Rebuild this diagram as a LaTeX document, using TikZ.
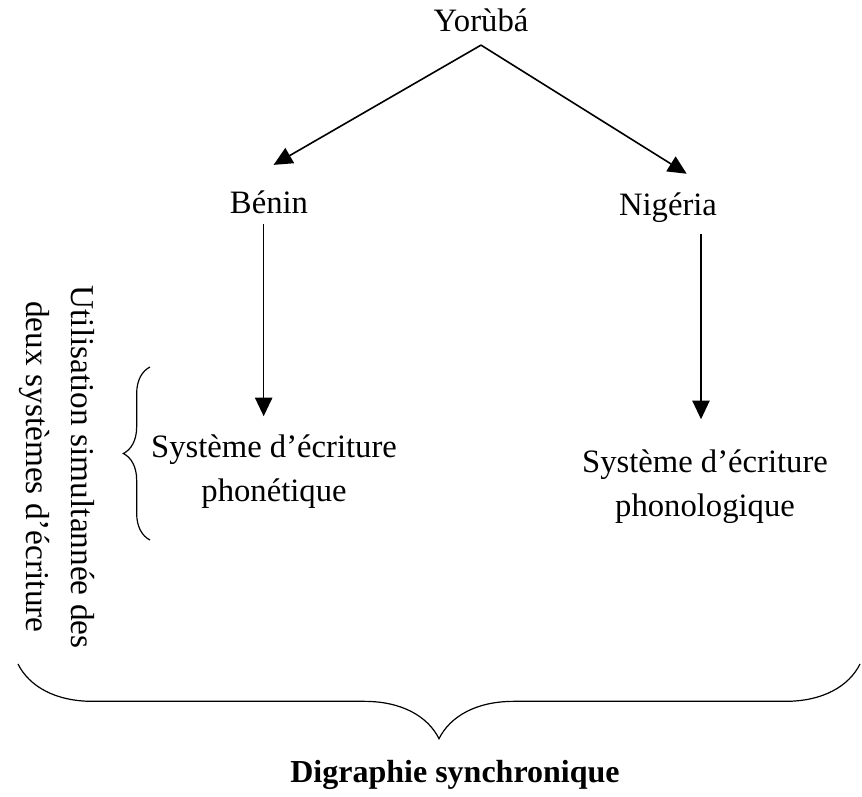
\documentclass[tikz,border=0pt]{standalone}
\usepackage{fontspec}
\setmainfont{Liberation Serif}
\usepackage{tikz}
\usetikzlibrary{arrows.meta, positioning, calc, decorations.pathreplacing}

\begin{document}
\begin{tikzpicture}[
  x=0.75pt, y=-0.75pt,
  every node/.style={font=\fontsize{24.5}{33}\selectfont, inner sep=0pt},
  lbl/.style={align=center},
  arr/.style={draw, line width=1.2pt, -{Triangle[length=14pt,width=13pt]}},
  brc/.style={draw, line width=0.9pt, decorate}
]
\useasboundingbox (0,0) rectangle (862,796);

\node[lbl] (yoruba) at (481,20) {Yorùbá};
\node[lbl] (benin) at (269,202) {Bénin};
\node[lbl] (nigeria) at (668,208) {Nigéria};
\node[lbl] (phonet) at (274,472) {Système d’écriture\\phonétique};
\node[lbl] (phonol) at (705,487) {Système d’écriture\\phonologique};
\node[lbl, rotate=-90, font=\fontsize{25}{34}\selectfont] (usage) at (57,467) {Utilisation simultannée des\\deux systèmes d’écriture};
\node[lbl, font=\fontsize{24}{33}\selectfont\bfseries] (digra) at (455,775) {Digraphie synchronique};

\coordinate (apex) at ([yshift=-10pt]yoruba.south);

% fleches
\draw[arr, shorten >=38pt] (apex) -- (benin.north west);
\draw[arr, shorten >=27pt] (apex) -- (nigeria.north east);
\draw[arr, shorten <=8pt, shorten >=14pt] ([xshift=-4pt]benin.south) -- ([xshift=-4pt]benin.south |- phonet.north);
\draw[arr, shorten <=8pt, shorten >=23pt] ([xshift=-3pt]nigeria.south -| phonol.north) -- ([xshift=-3pt]phonol.north);

% accolades
\draw[brc, decoration={brace, amplitude=20pt}] (150,540) -- (150,367);
\draw[brc, decoration={brace, mirror, amplitude=56pt}] (18,664) -- (860,664);

\end{tikzpicture}
\end{document}
